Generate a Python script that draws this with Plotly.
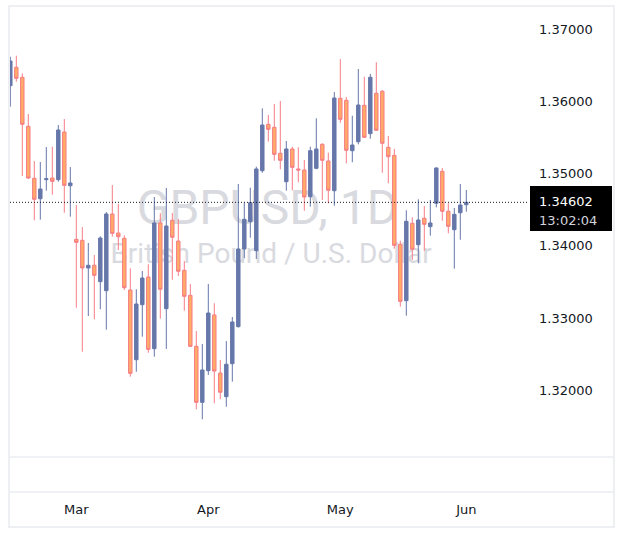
import pandas as pd
import plotly.graph_objects as go

# ---------------- data ----------------
dates = [d.strftime("%Y-%m-%d") for d in pd.bdate_range("2026-02-13", "2026-06-01")]

opens = [1.36217, 1.36472, 1.36334, 1.35655, 1.34935, 1.34652, 1.34916, 1.34939, 1.34916, 1.35576,
         1.34832, 1.34090, 1.34076, 1.33693, 1.33730, 1.33503, 1.33378, 1.34440, 1.34177, 1.34104,
         1.33388, 1.32422, 1.33184, 1.33568, 1.32575, 1.34316, 1.33129, 1.34353, 1.34066, 1.33661,
         1.33314, 1.32608, 1.31832, 1.32270, 1.33042, 1.32238, 1.31910, 1.32367, 1.32880, 1.33956,
         1.34334, 1.33932, 1.35040, 1.35683, 1.35641, 1.35281, 1.34888, 1.35341, 1.35064, 1.35050,
         1.34680, 1.35073, 1.35406, 1.35175, 1.34763, 1.36043, 1.36015, 1.35317, 1.35442, 1.35946,
         1.35553, 1.36112, 1.36140, 1.35364, 1.35253, 1.34021, 1.33240, 1.34312, 1.34015, 1.34381,
         1.34265, 1.34589, 1.35032, 1.34478, 1.34223, 1.34458, 1.34569]
highs = [1.36619, 1.36633, 1.36389, 1.35825, 1.35175, 1.35161, 1.35368, 1.35373, 1.35673, 1.35756,
         1.35091, 1.34565, 1.34260, 1.34039, 1.33873, 1.34132, 1.34468, 1.34842, 1.34579, 1.34145,
         1.33688, 1.33398, 1.33651, 1.33744, 1.34676, 1.34450, 1.34801, 1.34454, 1.34371, 1.33789,
         1.33471, 1.32820, 1.32640, 1.33471, 1.33204, 1.32418, 1.32681, 1.33014, 1.34856, 1.34597,
         1.34805, 1.35096, 1.35904, 1.35812, 1.35964, 1.36006, 1.35452, 1.35373, 1.35364, 1.35188,
         1.35373, 1.35766, 1.35420, 1.35289, 1.36130, 1.36587, 1.36061, 1.35802, 1.36449, 1.36342,
         1.36380, 1.36542, 1.36158, 1.35521, 1.35341, 1.34071, 1.34492, 1.34395, 1.34644, 1.34551,
         1.34634, 1.35087, 1.35078, 1.34589, 1.34524, 1.34856, 1.34773]
lows = [1.35927, 1.36273, 1.34967, 1.34925, 1.34353, 1.34362, 1.34763, 1.34708, 1.34888, 1.34458,
        1.34403, 1.33143, 1.32533, 1.33028, 1.32982, 1.33121, 1.32838, 1.34126, 1.33942, 1.33388,
        1.32187, 1.32256, 1.32741, 1.32519, 1.32464, 1.32990, 1.32571, 1.33530, 1.33582, 1.33101,
        1.32602, 1.31735, 1.31597, 1.32211, 1.31819, 1.31874, 1.31771, 1.32118, 1.32868, 1.33827,
        1.34112, 1.33817, 1.35012, 1.35442, 1.35179, 1.35060, 1.34763, 1.34769, 1.34880, 1.34486,
        1.34542, 1.35060, 1.34634, 1.34589, 1.34555, 1.35705, 1.35143, 1.35157, 1.35406, 1.35493,
        1.35483, 1.35590, 1.35012, 1.34866, 1.33960, 1.33157, 1.33032, 1.33803, 1.33758, 1.33932,
        1.34140, 1.34533, 1.34348, 1.34173, 1.33683, 1.34084, 1.34472]
closes = [1.36560, 1.36320, 1.35683, 1.34939, 1.34644, 1.34787, 1.34929, 1.34893, 1.35604, 1.34838,
          1.34870, 1.34048, 1.33693, 1.33730, 1.33591, 1.34108, 1.34440, 1.34173, 1.34126, 1.33420,
          1.32234, 1.33194, 1.33554, 1.32566, 1.34316, 1.33398, 1.34274, 1.34118, 1.33647, 1.33301,
          1.32608, 1.31832, 1.32280, 1.33069, 1.32266, 1.31971, 1.32359, 1.32945, 1.33956, 1.34367,
          1.34597, 1.35064, 1.35673, 1.35614, 1.35267, 1.35184, 1.35341, 1.35087, 1.35050, 1.34676,
          1.35317, 1.35341, 1.35184, 1.34769, 1.36047, 1.35752, 1.35323, 1.35396, 1.35950, 1.35503,
          1.36334, 1.35600, 1.35420, 1.35234, 1.34007, 1.33231, 1.34339, 1.33952, 1.34357, 1.34298,
          1.34316, 1.35078, 1.34478, 1.34270, 1.34436, 1.34565, 1.34602]

price_ticks = [1.32, 1.33, 1.34, 1.35, 1.36, 1.37]
month_tick_dates = ["2026-03-02", "2026-04-01", "2026-05-01", "2026-06-01"]
month_tick_labels = ["Mar", "Apr", "May", "Jun"]
symbol_title = "GBPUSD, 1D"
symbol_desc = "British Pound / U.S. Dollar"
countdown = "13:02:04"

# ---------------- layout geometry ----------------
W, H = 623, 544
def px_x(x):
    return x / W
def px_y(y):
    return 1 - y / H

pane_left, pane_right = 10, 529
pane_top, pane_bottom = 8, 457

UP = "#6677aa"
DOWN_LINE = "#f77c86"
DOWN_FILL = "#ffab66"
TXT = "#131722"

fig = go.Figure()

# watermark (on base axes, drawn below the candles)
fig.add_trace(go.Scatter(
    x=[0.496, 0.503], y=[0.545, 0.447],
    mode="text", text=[symbol_title, symbol_desc],
    textposition="middle center",
    textfont=dict(family="Roboto", size=[48, 28], color="#d9dadf"),
    cliponaxis=False,
    hoverinfo="skip", showlegend=False, xaxis="x", yaxis="y",
))

fig.add_trace(go.Candlestick(
    x=dates, open=opens, high=highs, low=lows, close=closes,
    increasing=dict(line=dict(color=UP, width=1), fillcolor=UP),
    decreasing=dict(line=dict(color=DOWN_LINE, width=1), fillcolor=DOWN_FILL),
    whiskerwidth=0, showlegend=False, xaxis="x2", yaxis="y2",
))

last = closes[-1]
ymin = 1.32 - (pane_bottom - 390.2) / 7220
ymax = 1.37 + (29.2 - pane_top) / 7220

fig.update_layout(
    width=W, height=H,
    margin=dict(l=0, r=0, t=0, b=0),
    paper_bgcolor="white", plot_bgcolor="white",
    boxgap=0.18,
    xaxis=dict(domain=[px_x(pane_left), px_x(pane_right)], range=[0, 1], visible=False, fixedrange=True),
    yaxis=dict(domain=[px_y(pane_bottom), px_y(pane_top)], range=[0, 1], visible=False, fixedrange=True),
    xaxis2=dict(
        overlaying="x", type="category", range=[-0.05, 86.45],
        tickmode="array", tickvals=month_tick_dates, ticktext=month_tick_labels,
        showgrid=False, zeroline=False, showline=False, ticks="",
        anchor="free", position=px_y(492), ticklabelstandoff=8,
        tickfont=dict(family="DejaVu Sans", size=13, color=TXT),
        rangeslider=dict(visible=False),
    ),
    yaxis2=dict(
        overlaying="y", side="right", range=[ymin, ymax],
        tickmode="array", tickvals=price_ticks, tickformat=".5f",
        showgrid=False, zeroline=False, showline=False, ticks="",
        anchor="free", position=px_x(pane_right), ticklabelstandoff=9,
        tickfont=dict(family="DejaVu Sans", size=13, color=TXT),
    ),
    showlegend=False,
)

shapes = []
# outer frame
shapes.append(dict(type="rect", xref="paper", yref="paper",
                   x0=px_x(9), x1=px_x(614), y0=px_y(527), y1=px_y(6),
                   line=dict(color="#eeeff2", width=2), fillcolor="rgba(0,0,0,0)", layer="below"))
# pane separators
for yy in (457, 492):
    shapes.append(dict(type="line", xref="paper", yref="paper",
                       x0=px_x(10), x1=px_x(613), y0=px_y(yy), y1=px_y(yy),
                       line=dict(color="#e0e3eb", width=1)))
# current price dotted line
shapes.append(dict(type="line", xref="paper", yref="y2",
                   x0=px_x(pane_left), x1=px_x(pane_right), y0=last, y1=last,
                   line=dict(color=TXT, width=1, dash="1px,2px")))
# price label box
shapes.append(dict(type="rect", xref="paper", yref="paper",
                   x0=px_x(530), x1=px_x(612), y0=px_y(231), y1=px_y(186),
                   line=dict(width=0), fillcolor="#000000"))
fig.update_layout(shapes=shapes)

fig.add_annotation(xref="paper", yref="paper", x=px_x(537), y=px_y(201),
                   text=f"{last:.5f}", showarrow=False, xanchor="left", yanchor="middle",
                   font=dict(family="DejaVu Sans", size=13, color="white"))
fig.add_annotation(xref="paper", yref="paper", x=px_x(537), y=px_y(220),
                   text=countdown, showarrow=False, xanchor="left", yanchor="middle",
                   font=dict(family="DejaVu Sans", size=13, color="#d1d4dc"))

fig.write_html("out.html")
